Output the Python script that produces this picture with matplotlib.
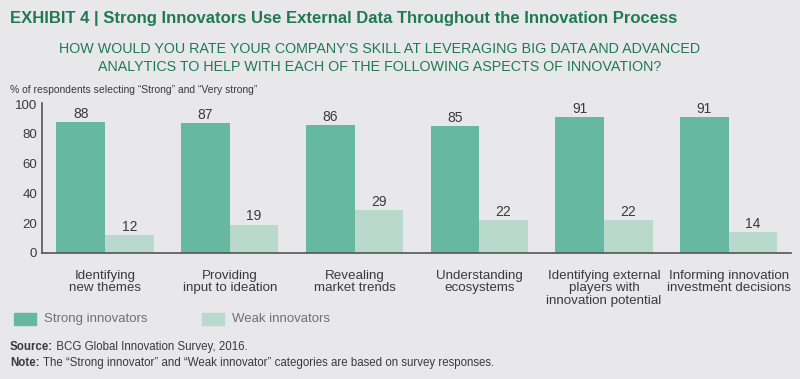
import matplotlib
matplotlib.use("Agg")
import matplotlib.pyplot as plt
import numpy as np
from matplotlib.patches import Rectangle

plt.rcParams['font.family'] = ['Liberation Sans', 'DejaVu Sans']

categories = ["Identifying\nnew themes", "Providing\ninput to ideation",
              "Revealing\nmarket trends", "Understanding\necosystems",
              "Identifying external\nplayers with\ninnovation potential",
              "Informing innovation\ninvestment decisions"]
strong = [88, 87, 86, 85, 91, 91]
weak = [12, 19, 29, 22, 22, 14]
series_names = ["Strong innovators", "Weak innovators"]

bg = "#e8e8ea"
c_strong = "#66b8a0"
c_weak = "#b9d9cc"
green = "#1f7a50"
dark = "#3a3a3a"

fig = plt.figure(figsize=(8, 3.79), dpi=100, facecolor=bg)
ax = fig.add_axes([0.0525, 0.3325, 0.9365, 0.393])
ax.set_facecolor(bg)

x = np.arange(len(categories))
w = 0.39
b1 = ax.bar(x - w / 2, strong, w, color=c_strong)
b2 = ax.bar(x + w / 2, weak, w, color=c_weak)
for bars, vals in ((b1, strong), (b2, weak)):
    for r, v in zip(bars, vals):
        ax.text(r.get_x() + r.get_width() / 2, v + 0.8, str(v), ha='center',
                va='bottom', fontsize=10, color=dark)

ax.set_xlim(-0.505, 5.5)
ax.set_ylim(0, 100)
ax.set_yticks(range(0, 101, 20))
ax.set_xticks(x)
ax.set_xticklabels(categories, fontsize=9.6, color=dark, linespacing=1.05)
ax.tick_params(axis='both', length=0, colors=dark, labelsize=9.5)
ax.tick_params(axis='x', pad=12, labelsize=9.6)
for s in ('top', 'right'):
    ax.spines[s].set_visible(False)
for s in ('left', 'bottom'):
    ax.spines[s].set_color('#555555')
    ax.spines[s].set_linewidth(1.2)
ax.spines['left'].set_bounds(0, 101)

fig.text(0.0125, 0.952, "EXHIBIT 4 | Strong Innovators Use External Data Throughout the Innovation Process",
         fontsize=12, fontweight='bold', color=green, va='center')
fig.text(0.475, 0.872, "HOW WOULD YOU RATE YOUR COMPANY\u2019S SKILL AT LEVERAGING BIG DATA AND ADVANCED",
         fontsize=10.3, color=green, ha='center', va='center')
fig.text(0.475, 0.822, "ANALYTICS TO HELP WITH EACH OF THE FOLLOWING ASPECTS OF INNOVATION?",
         fontsize=10.3, color=green, ha='center', va='center')
fig.text(0.0125, 0.762, "% of respondents selecting \u201cStrong\u201d and \u201cVery strong\u201d",
         fontsize=7.5, color=dark, va='center')

# legend
for px, col, name in ((0.0175, c_strong, series_names[0]), (0.2525, c_weak, series_names[1])):
    fig.patches.append(Rectangle((px, 0.142), 0.027, 0.033, transform=fig.transFigure,
                                 color=col))
    fig.text(px + 0.037, 0.158, name, fontsize=9.5, color='#707070', va='center')

# source / note with bold lead-in
renderer = fig.canvas.get_renderer()
for yy, lead, rest in ((0.085, "Source:", " BCG Global Innovation Survey, 2016."),
                       (0.043, "Note:", " The \u201cStrong innovator\u201d and \u201cWeak innovator\u201d categories are based on survey responses.")):
    t = fig.text(0.0125, yy, lead, fontsize=8.3, fontweight='bold', color=dark, va='center')
    bb = t.get_window_extent(renderer)
    fig.text(bb.x1 / fig.bbox.width, yy, rest, fontsize=8.3, color=dark, va='center')

fig.savefig("out.png", dpi=100, facecolor=bg)
